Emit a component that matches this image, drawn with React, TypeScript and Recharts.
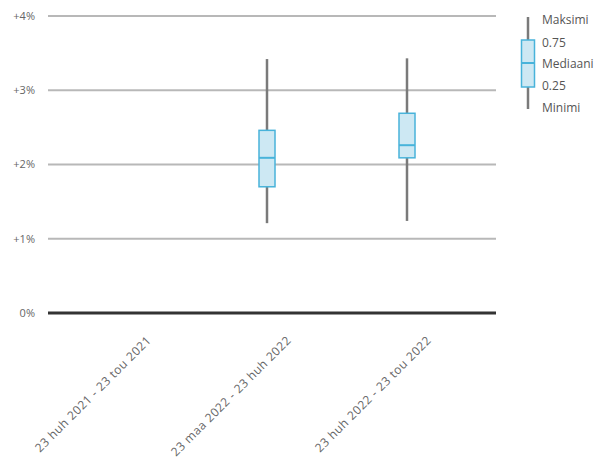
import React from 'react'
import { ComposedChart, Bar, XAxis, YAxis, CartesianGrid } from 'recharts'

// ============================================
// Data
// ============================================

const categories = [
  '23 huh 2021 - 23 tou 2021',
  '23 maa 2022 - 23 huh 2022',
  '23 huh 2022 - 23 tou 2022',
]
const minValues: Array<number | null> = [null, 1.21, 1.24]
const q1Values: Array<number | null> = [null, 1.7, 2.09]
const medianValues: Array<number | null> = [null, 2.09, 2.26]
const q3Values: Array<number | null> = [null, 2.46, 2.69]
const maxValues: Array<number | null> = [null, 3.42, 3.43]
const yTicks = [0, 1, 2, 3, 4]
const legendLabels = ['Maksimi', '0.75', 'Mediaani', '0.25', 'Minimi']

const data = categories.map((name, i) => ({
  name,
  min: minValues[i],
  q1: q1Values[i],
  median: medianValues[i],
  q3: q3Values[i],
  max: maxValues[i],
}))

const FONT = '"Open Sans", sans-serif'
const WHISKER = '#7a7a7a'
const BOX_FILL = '#cde8f3'
const BOX_STROKE = '#48b3da'

// ============================================
// Box shape (drawn from the bar's min..max range)
// ============================================

function BoxShape(props: any) {
  const { x, y, width, height, payload } = props
  if (payload == null || payload.max == null) return null
  const top = Math.min(y, y + height)
  const h = Math.abs(height)
  const span = payload.max - payload.min
  const toY = (v: number) => top + (h * (payload.max - v)) / span
  const cx = x + width / 2
  const yQ3 = toY(payload.q3)
  const yQ1 = toY(payload.q1)
  const yMed = toY(payload.median)
  return (
    <g>
      <line x1={cx} x2={cx} y1={top} y2={top + h} stroke={WHISKER} strokeWidth={2.5} />
      <rect
        x={x}
        y={yQ3}
        width={width}
        height={yQ1 - yQ3}
        fill={BOX_FILL}
        stroke={BOX_STROKE}
        strokeWidth={1.5}
      />
      <line x1={x} x2={x + width} y1={yMed} y2={yMed} stroke={BOX_STROKE} strokeWidth={2} />
    </g>
  )
}

function AngledTick(props: any) {
  const { x, y, payload } = props
  return (
    <text
      transform={`translate(${x + 25}, ${y + 20}) rotate(-45)`}
      textAnchor="end"
      fontFamily={FONT}
      fontSize={12}
      letterSpacing={0.5}
      fill="#666"
    >
      {payload.value}
    </text>
  )
}

// ============================================
// Legend (static key on the right)
// ============================================

function BoxLegend() {
  const rows = [19, 42, 63, 85, 107]
  return (
    <svg
      width={90}
      height={120}
      style={{ position: 'absolute', left: 508, top: 0, overflow: 'visible' }}
    >
      <line x1={20} x2={20} y1={17} y2={109} stroke={WHISKER} strokeWidth={2.5} />
      <rect x={13.5} y={40} width={13} height={47} fill={BOX_FILL} stroke={BOX_STROKE} strokeWidth={1.5} />
      <line x1={13.5} x2={26.5} y1={63} y2={63} stroke={BOX_STROKE} strokeWidth={2} />
      {legendLabels.map((label, i) => (
        <text
          key={label}
          x={34}
          y={rows[i]}
          dominantBaseline="central"
          fontFamily={FONT}
          fontSize={12}
          fill="#555"
        >
          {label}
        </text>
      ))}
    </svg>
  )
}

// ============================================
// Main Component
// ============================================

export default function App() {
  return (
    <div style={{ position: 'absolute', left: 0, top: 0, width: 598, height: 461, background: '#fff' }}>
      <ComposedChart
        width={598}
        height={461}
        data={data}
        margin={{ top: 16, right: 102, left: 0, bottom: 8 }}
      >
        <CartesianGrid vertical={false} stroke="#b8b8b8" strokeWidth={2} />
        <XAxis
          dataKey="name"
          height={140}
          padding={{ left: 9, right: 19 }}
          axisLine={{ stroke: '#333', strokeWidth: 3 }}
          tickLine={false}
          tick={<AngledTick />}
          interval={0}
        />
        <YAxis
          width={48}
          domain={[0, 4]}
          ticks={yTicks}
          axisLine={false}
          tickLine={false}
          tickSize={0}
          tickMargin={13}
          tickFormatter={(v: number) => (v === 0 ? '0%' : `+${v}%`)}
          tick={{ fontFamily: FONT, fontSize: 11, fill: '#666' }}
        />
        <Bar
          dataKey={(d: any) => (d.max == null ? null : [d.min, d.max])}
          barSize={16}
          shape={<BoxShape />}
          isAnimationActive={false}
        />
      </ComposedChart>
      <BoxLegend />
    </div>
  )
}
